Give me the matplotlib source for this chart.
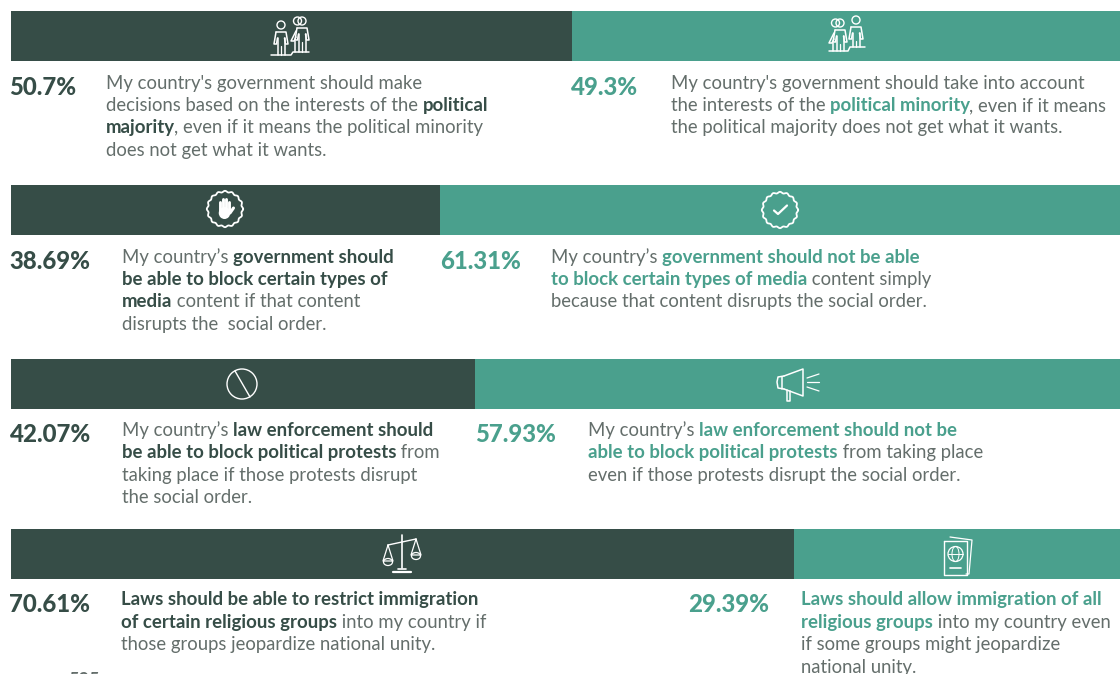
import matplotlib
matplotlib.use("Agg")
import matplotlib.pyplot as plt
from matplotlib.patches import Circle, Ellipse
import numpy as np

plt.rcParams['font.family'] = ['Lato', 'DejaVu Sans']

dark = "#364D47"
teal = "#4AA08D"
grey = "#646E6B"

# bar lengths as drawn in the picture, labels as printed
left_vals = [50.6, 38.69, 41.85, 70.61]
right_vals = [49.4, 61.31, 58.15, 29.39]
left_labels = ["50.7%", "38.69%", "42.07%", "70.61%"]
right_labels = ["49.3%", "61.31%", "57.93%", "29.39%"]

# each line is a list of (text, bold)
left_text = [
    [[("My country's government should make", 0)],
     [("decisions based on the interests of the ", 0), ("political", 1)],
     [("majority", 1), (", even if it means the political minority", 0)],
     [("does not get what it wants.", 0)]],
    [[("My country’s ", 0), ("government should", 1)],
     [("be able to block certain types of", 1)],
     [("media", 1), (" content if that content", 0)],
     [("disrupts the  social order.", 0)]],
    [[("My country’s ", 0), ("law enforcement should", 1)],
     [("be able to block political protests", 1), (" from", 0)],
     [("taking place if those protests disrupt", 0)],
     [("the social order.", 0)]],
    [[("Laws should be able to restrict immigration", 1)],
     [("of certain religious groups", 1), (" into my country if", 0)],
     [("those groups jeopardize national unity.", 0)]],
]
right_text = [
    [[("My country's government should take into account", 0)],
     [("the interests of the ", 0), ("political minority", 1), (", even if it means", 0)],
     [("the political majority does not get what it wants.", 0)]],
    [[("My country’s ", 0), ("government should not be able", 1)],
     [("to block certain types of media", 1), (" content simply", 0)],
     [("because that content disrupts the social order.", 0)]],
    [[("My country’s ", 0), ("law enforcement should not be", 1)],
     [("able to block political protests", 1), (" from taking place", 0)],
     [("even if those protests disrupt the social order.", 0)]],
    [[("Laws should allow immigration of all", 1)],
     [("religious groups", 1), (" into my country even", 0)],
     [("if some groups might jeopardize", 0)],
     [("national unity.", 0)]],
]

bar_top = [11, 185, 359, 529]
bar_h = 49.5
text_y = [83, 257, 430.5, 600]
pct_y = [87.5, 261.5, 434.5, 604]
left_pct_x = [9.5, 9.5, 9.5, 9.5]
left_txt_x = [106, 122, 122, 121]
right_pct_x = [570.5, 440.5, 475.5, 688]
right_txt_x = [671, 551, 588, 801]

W, H = 1120, 674
fig = plt.figure(figsize=(W / 100, H / 100), dpi=100)

# bars on a percent axis
bx = fig.add_axes([11 / W, 0, 1109 / W, 1])
bx.set_xlim(0, 100)
bx.set_ylim(H, 0)
bx.axis("off")
bx.barh([t + bar_h / 2 for t in bar_top], left_vals, height=bar_h, color=dark, linewidth=0)
bx.barh([t + bar_h / 2 for t in bar_top], right_vals, left=left_vals, height=bar_h, color=teal, linewidth=0)

# overlay in pixels for text and icons
ax = fig.add_axes([0, 0, 1, 1])
ax.set_xlim(0, W)
ax.set_ylim(H, 0)
ax.axis("off")
ax.patch.set_alpha(0)
rend = fig.canvas.get_renderer()


def draw_runs(x, y, lines, col):
    for i, line in enumerate(lines):
        cx = x
        for s, b in line:
            size = 13.45 if b else 13.36
            weight = "bold" if b else "normal"
            # comma sits tight against the bold word before it
            if s.startswith(","):
                cx -= 1.5
            ax.text(cx, y + i * 22.45, s, fontsize=size, va="center", ha="left",
                    color=col if b else grey, fontweight=weight)
            # nbsp so trailing spaces count in the measure
            probe = ax.text(0, 0, s.replace(" ", "\u00a0"), fontsize=size, fontweight=weight)
            cx += probe.get_window_extent(rend).width
            probe.remove()


def ln(xs, ys, lw=1.1):
    ax.plot(xs, ys, color="white", lw=lw, solid_capstyle="round", solid_joinstyle="round")


def person(cx, head_y, foot_y, double=False):
    ax.add_patch(Circle((cx, head_y), 4, fill=False, ec="white", lw=1.0))
    y = head_y + 7
    ln([cx - 5, cx + 5, cx + 7, cx + 4.5, cx + 3.5], [y, y, y + 12, y + 12, y + 6])
    ln([cx - 5, cx - 7, cx - 4.5, cx - 3.5], [y, y + 12, y + 12, y + 6])
    ln([cx - 3.5, cx - 3.5], [y + 6, foot_y])
    ln([cx + 3.5, cx + 3.5], [y + 6, foot_y])
    ln([cx, cx], [y + 14, foot_y], 0.9)
    if double:
        ax.add_patch(Circle((cx - 4.5, head_y), 4, fill=False, ec="white", lw=1.0))
        ln([cx - 6, cx - 11, cx - 8, cx - 6], [y + 3, y + 13, y + 13, y + 9])
        ln([cx - 7, cx - 7], [y + 13, foot_y])


def badge(cx, cy):
    a = np.linspace(0, 2 * np.pi, 300)
    r = 17.5 + 0.7 * np.cos(16 * a)
    ln(cx + r * np.cos(a), cy + r * np.sin(a), 1.3)


def hand(cx, cy):
    for dx, top in zip([-5, -2, 1, 4], [-7, -10, -10, -7]):
        ln([cx + dx, cx + dx], [cy + 2, cy + top], 2.1)
    ax.add_patch(Ellipse((cx - 0.5, cy + 4), 11.5, 12, color="white", lw=0))
    ln([cx + 5, cx + 8.5], [cy + 4, cy - 1], 2.2)


def check(cx, cy):
    ln([cx - 6, cx - 2, cx + 7], [cy + 0.5, cy + 4, cy - 4.5], 1.6)


def no_sign(cx, cy):
    ax.add_patch(Ellipse((cx, cy), 30, 30, fill=False, ec="white", lw=1.0))
    ln([cx - 7, cx + 8], [cy - 13, cy + 13], 1.0)


def megaphone(cx, cy):
    ln([cx - 8, cx + 11, cx + 11, cx - 8], [cy - 8, cy - 15, cy + 12, cy + 5])
    ln([cx - 8, cx - 14, cx - 15, cx - 14, cx - 8], [cy - 8, cy - 7, cy - 2, cy + 4, cy + 5])
    ln([cx - 10, cx - 10], [cy - 7, cy + 5])
    ln([cx - 5, cx - 5, cx - 2, cx - 2], [cy + 6, cy + 17, cy + 17, cy + 7])
    ln([cx + 15, cx + 27], [cy - 6, cy - 10], 0.9)
    ln([cx + 15, cx + 27], [cy - 2, cy - 2], 0.9)
    ln([cx + 15, cx + 27], [cy + 3, cy + 7], 0.9)


def scales(cx, cy):
    ln([cx, cx], [cy - 19, cy + 14], 1.2)
    ln([cx - 14, cx + 14], [cy - 9, cy - 15], 1.0)
    for px, py in [(cx - 14, cy - 9), (cx + 14, cy - 15)]:
        ln([px, px - 5, px + 5, px], [py, py + 16, py + 16, py], 0.9)
        ax.add_patch(Ellipse((px, py + 17), 9, 7, fill=False, ec="white", lw=0.9))
    ln([cx - 4, cx + 4], [cy + 15, cy + 15], 1.2)
    ln([cx - 9, cx + 9], [cy + 18, cy + 18], 1.6)


def passport(cx, cy):
    ln([cx - 8, cx + 14, cx + 11, cx + 8], [cy - 19, cy - 16, cy + 18, cy + 18], 0.9)
    ln([cx - 14, cx + 9, cx + 9, cx - 14, cx - 14], [cy - 15, cy - 15, cy + 19, cy + 19, cy - 15], 1.0)
    ax.add_patch(Circle((cx - 2.5, cy - 2), 7.5, fill=False, ec="white", lw=0.9))
    ax.add_patch(Ellipse((cx - 2.5, cy - 2), 7, 15, fill=False, ec="white", lw=0.7))
    ln([cx - 10, cx + 5], [cy - 2, cy - 2], 0.7)
    ln([cx - 8, cx + 3], [cy + 12, cy + 12], 1.2)


person(281, 25, 55)
person(302, 21, 52, double=True)
ln([271, 291, 293, 309], [55, 55, 52, 52])
person(840, 23, 51, double=True)
person(856, 20, 47)
ln([829, 848, 850, 865], [51, 51, 47, 47])
badge(225, 209)
hand(225, 209)
badge(780, 210)
check(780, 210)
no_sign(242, 384)
megaphone(792, 384)
scales(402, 554)
passport(958, 556)

for i in range(4):
    ax.text(left_pct_x[i], pct_y[i], left_labels[i], fontsize=17.3, fontweight="black",
            color=dark, va="center", ha="left")
    ax.text(right_pct_x[i], pct_y[i], right_labels[i], fontsize=17.3, fontweight="black",
            color=teal, va="center", ha="left")
    draw_runs(left_txt_x[i], text_y[i], left_text[i], dark)
    draw_runs(right_txt_x[i], text_y[i], right_text[i], teal)

# cut off by the bottom edge of the picture
ax.text(68, 672.5, "535", fontsize=13, fontweight="bold", color=grey, va="top", ha="left")

fig.savefig("out.png", dpi=100, facecolor="white")
